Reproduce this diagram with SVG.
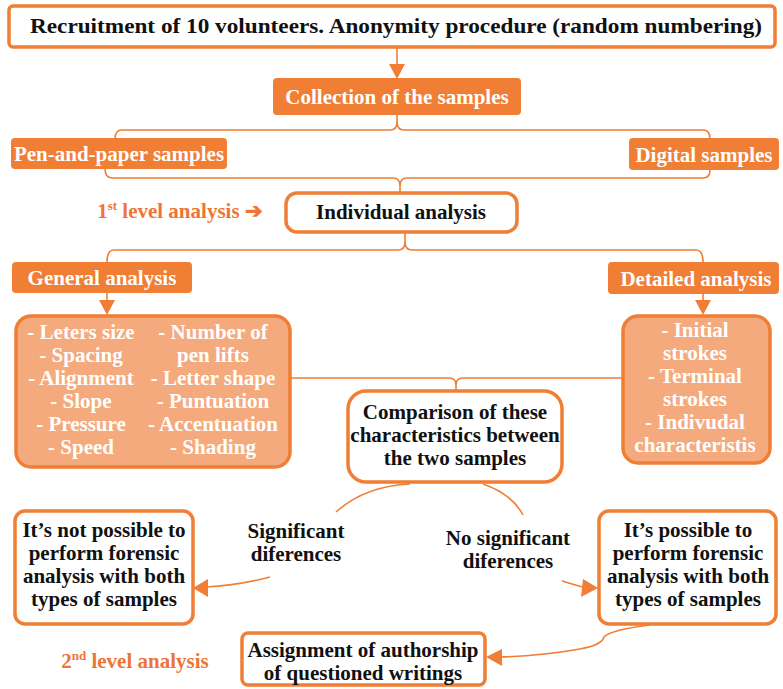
<svg xmlns="http://www.w3.org/2000/svg" width="783" height="689" viewBox="0 0 783 689">
<defs>
<style>
.ob{fill:#fff;stroke:#F07E35;stroke-width:3.5}
.of{fill:#F07E35;stroke:none}
.lf{fill:#F5AA7D;stroke:#F07E35;stroke-width:3.5}
.t{font-family:"Liberation Serif","Times New Roman",serif;font-weight:bold;font-size:21px;text-anchor:middle}
.k{fill:#111}
.w{fill:#fff}
.o{fill:#EE7536}
.c{fill:none;stroke:#F07E35;stroke-width:1.6}
.ah{fill:#F07E35}
</style>
</defs>
<rect width="783" height="689" fill="#fff"/>
<g id="connectors">
<line class="c" x1="397" y1="47" x2="397" y2="66" stroke-width="2"/>
<polygon class="ah" points="389,64 405,64 397,79"/>
<path class="c" d="M115,139 Q115,130 122,130 L390,130 Q397,130 397,122 L397,115 M397,122 Q397,130 404,130 L703,130 Q710,130 710,139"/>
<path class="c" d="M105,168 Q105,178 112,178 L393,178 Q400,178 400,186 L400,192 M400,186 Q400,178 407,178 L703,178 Q710,178 710,170"/>
<path class="c" d="M107,262 Q107,250 114,250 L398,250 Q405,250 405,242 L405,232 M405,242 Q405,250 412,250 L696,250 Q703,250 703,262"/>
<line class="c" x1="107" y1="293" x2="107" y2="302" stroke-width="2"/>
<polygon class="ah" points="99,300 115,300 107,315"/>
<line class="c" x1="703" y1="294" x2="703" y2="302" stroke-width="2"/>
<polygon class="ah" points="695,300 711,300 703,315"/>
<path class="c" d="M290,378 L449,378 Q456,378 456,385 L456,391 M456,385 Q456,378 463,378 L622,378"/>
<path class="c" d="M410,484 Q365,486 336,512"/>
<path class="c" d="M483,484 Q512,494 523,515"/>
<path class="c" d="M270,577 Q240,585 205,587"/>
<polygon class="ah" points="193,588 208,579 208,597"/>
<path class="c" d="M562,581 Q575,585 586,588"/>
<polygon class="ah" points="598,588 583,579 581,597"/>
<path class="c" d="M650,625 Q610,630 604,637 Q602,645 580,649 Q540,656 500,657"/>
<polygon class="ah" points="486,657 502,649 502,666"/>
</g>
<g id="n-recruit">
<rect class="ob" x="9" y="6" width="766" height="41" rx="4"/>
<text class="t k" x="396" y="33" textLength="732" lengthAdjust="spacingAndGlyphs">Recruitment of 10 volunteers. Anonymity procedure (random numbering)</text>
</g>
<g id="n-collection">
<rect class="of" x="273" y="78" width="248" height="37" rx="4"/>
<text class="t w" x="397" y="104">Collection of the samples</text>
</g>
<g id="n-pen">
<rect class="of" x="11" y="138" width="216" height="31" rx="4"/>
<text class="t w" x="119" y="161">Pen-and-paper samples</text>
</g>
<g id="n-digital">
<rect class="of" x="629" y="138" width="150" height="32" rx="4"/>
<text class="t w" x="704" y="162">Digital samples</text>
</g>
<g id="l-first">
<text class="t o" x="180" y="218">1<tspan font-size="13" dy="-8">st</tspan><tspan dy="8"> level analysis ➔</tspan></text>
</g>
<g id="n-individual">
<rect class="ob" x="286" y="193" width="231" height="39" rx="11"/>
<text class="t k" x="401" y="219">Individual analysis</text>
</g>
<g id="n-general">
<rect class="of" x="12" y="262" width="180" height="31" rx="4"/>
<text class="t w" x="102" y="285">General analysis</text>
</g>
<g id="n-detailed">
<rect class="of" x="608" y="262" width="171" height="32" rx="4"/>
<text class="t w" x="696" y="286">Detailed analysis</text>
</g>
<g id="n-general-list">
<rect class="lf" x="16" y="316" width="274" height="151" rx="15"/>
<text class="t w" x="81" y="339">- Leters size</text>
<text class="t w" x="81" y="362">- Spacing</text>
<text class="t w" x="81" y="385">- Alignment</text>
<text class="t w" x="81" y="408">- Slope</text>
<text class="t w" x="81" y="431">- Pressure</text>
<text class="t w" x="81" y="454">- Speed</text>
<text class="t w" x="213" y="339">- Number of</text>
<text class="t w" x="213" y="362">pen lifts</text>
<text class="t w" x="213" y="385">- Letter shape</text>
<text class="t w" x="213" y="408">- Puntuation</text>
<text class="t w" x="213" y="431">- Accentuation</text>
<text class="t w" x="213" y="454">- Shading</text>
</g>
<g id="n-detailed-list">
<rect class="lf" x="623" y="316" width="147" height="147" rx="15"/>
<text class="t w" x="695" y="337">- Initial</text>
<text class="t w" x="695" y="360">strokes</text>
<text class="t w" x="695" y="383">- Terminal</text>
<text class="t w" x="695" y="406">strokes</text>
<text class="t w" x="695" y="429">- Indivudal</text>
<text class="t w" x="695" y="452">characteristis</text>
</g>
<g id="n-comparison">
<rect class="ob" x="348" y="391" width="214" height="91" rx="18"/>
<text class="t k" x="455" y="419">Comparison of these</text>
<text class="t k" x="455" y="442">characteristics between</text>
<text class="t k" x="455" y="465">the two samples</text>
</g>
<g id="l-sig">
<text class="t k" x="296" y="538">Significant</text>
<text class="t k" x="296" y="561">diferences</text>
</g>
<g id="l-nosig">
<text class="t k" x="508" y="545">No significant</text>
<text class="t k" x="508" y="568">diferences</text>
</g>
<g id="n-notpossible">
<rect class="ob" x="15" y="511" width="178" height="113" rx="10"/>
<text class="t k" x="104" y="537">It’s not possible to</text>
<text class="t k" x="104" y="560">perform forensic</text>
<text class="t k" x="104" y="583">analysis with both</text>
<text class="t k" x="104" y="606">types of samples</text>
</g>
<g id="n-possible">
<rect class="ob" x="599" y="511" width="177" height="113" rx="10"/>
<text class="t k" x="688" y="537">It’s possible to</text>
<text class="t k" x="688" y="560">perform forensic</text>
<text class="t k" x="688" y="583">analysis with both</text>
<text class="t k" x="688" y="606">types of samples</text>
</g>
<g id="l-second">
<text class="t o" x="135" y="668">2<tspan font-size="13" dy="-8">nd</tspan><tspan dy="8"> level analysis</tspan></text>
</g>
<g id="n-assignment">
<rect class="ob" x="242" y="633" width="243" height="52" rx="6"/>
<text class="t k" x="363" y="657">Assignment of authorship</text>
<text class="t k" x="363" y="680">of questioned writings</text>
</g>
</svg>
